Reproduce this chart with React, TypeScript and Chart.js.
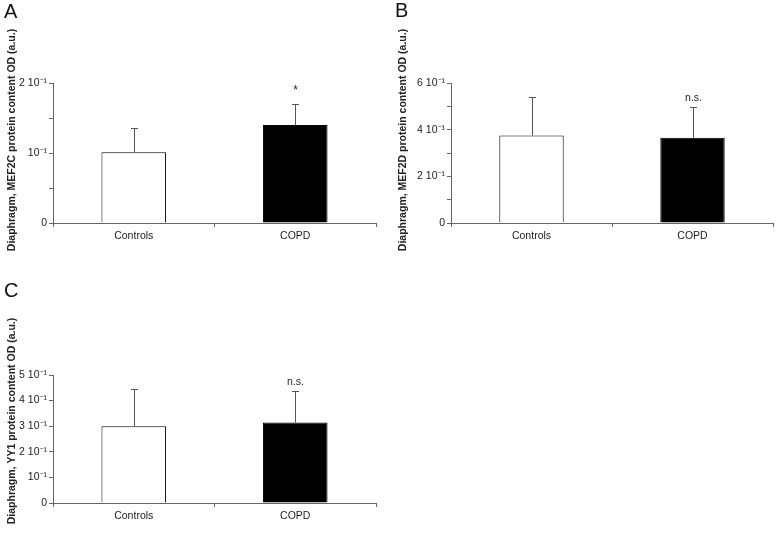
import React, { useEffect, useRef } from "react";
import { Chart, registerables } from "chart.js";

Chart.register(...registerables);

// ---------- data ----------
const categories = ["Controls", "COPD"];

const meansA = [0.101, 0.14];
const errorsA = [0.035, 0.03];
const marksA = ["", "*"];
const tickLabelsA = ["0", "10⁻¹", "2 10⁻¹"];
const titleA = "Diaphragm, MEF2C protein content OD (a.u.)";

const meansB = [0.375, 0.365];
const errorsB = [0.165, 0.132];
const marksB = ["", "n.s."];
const tickLabelsB = ["0", "2 10⁻¹", "4 10⁻¹", "6 10⁻¹"];
const titleB = "Diaphragm, MEF2D protein content OD (a.u.)";

const meansC = [0.3, 0.314];
const errorsC = [0.145, 0.124];
const marksC = ["", "n.s."];
const tickLabelsC = ["0", "10⁻¹", "2 10⁻¹", "3 10⁻¹", "4 10⁻¹", "5 10⁻¹"];
const titleC = "Diaphragm, YY1 protein content OD (a.u.)";

const barColors = ["#ffffff", "#000000"];

// ---------- styles ----------
const FONT = "'Liberation Sans', Arial, Helvetica, sans-serif";
const TEXT = "#222222";
const AXIS = "#666666";
const ERR = "#555555";

type PanelCfg = {
  letter: string;
  title: string;
  means: number[];
  errors: number[];
  marks: string[];
  tickLabels: string[];
  yMax: number;
  major: number;
  minor: number;
  left: number;
  top: number;
  width: number;
  height: number;
  yW: number;
  xH: number;
  padTop: number;
  padRight: number;
  letterX: number;
  letterY: number;
  titleX: number;
  titleY: number;
};

const panels: PanelCfg[] = [
  {
    letter: "A", title: titleA, means: meansA, errors: errorsA, marks: marksA,
    tickLabels: tickLabelsA, yMax: 0.2, major: 0.1, minor: 0.05,
    left: 0, top: 0, width: 385, height: 260, yW: 53, xH: 37, padTop: 83, padRight: 9,
    letterX: 4, letterY: 18, titleX: 12, titleY: 140,
  },
  {
    letter: "B", title: titleB, means: meansB, errors: errorsB, marks: marksB,
    tickLabels: tickLabelsB, yMax: 0.6, major: 0.2, minor: 0.1,
    left: 390, top: 0, width: 387, height: 260, yW: 61, xH: 37, padTop: 83, padRight: 4,
    letterX: 5, letterY: 17, titleX: 13.5, titleY: 140,
  },
  {
    letter: "C", title: titleC, means: meansC, errors: errorsC, marks: marksC,
    tickLabels: tickLabelsC, yMax: 0.5, major: 0.1, minor: 0.1,
    left: 0, top: 270, width: 385, height: 267, yW: 53, xH: 34, padTop: 105, padRight: 9,
    letterX: 4, letterY: 27, titleX: 12, titleY: 151,
  },
];

function makePlugin(cfg: PanelCfg) {
  return {
    id: "panelExtras" + cfg.letter,
    afterDatasetsDraw(chart: any) {
      const ctx = chart.ctx;
      const meta = chart.getDatasetMeta(0);
      const yScale = chart.scales.y;
      ctx.save();
      // error bars
      ctx.strokeStyle = ERR;
      ctx.lineWidth = 1;
      meta.data.forEach((el: any, i: number) => {
        const x = Math.round(el.x) + 0.5;
        const y0 = el.y;
        const y1 = Math.round(yScale.getPixelForValue(cfg.means[i] + cfg.errors[i])) + 0.5;
        ctx.beginPath();
        ctx.moveTo(x, y0);
        ctx.lineTo(x, y1);
        ctx.moveTo(x - 3.5, y1);
        ctx.lineTo(x + 3.5, y1);
        ctx.stroke();
        // significance marks
        const mark = cfg.marks[i];
        if (mark) {
          ctx.fillStyle = TEXT;
          ctx.textAlign = "center";
          ctx.textBaseline = "middle";
          if (mark === "*") {
            ctx.font = `12px ${FONT}`;
            ctx.fillText(mark, x, y1 - 14);
          } else {
            ctx.font = `10.5px ${FONT}`;
            ctx.fillText(mark, x, y1 - 9);
          }
        }
      });
      ctx.restore();
    },
    afterDraw(chart: any) {
      const ctx = chart.ctx;
      ctx.save();
      ctx.fillStyle = "#111111";
      ctx.font = `20px ${FONT}`;
      ctx.textAlign = "left";
      ctx.textBaseline = "alphabetic";
      ctx.fillText(cfg.letter, cfg.letterX, cfg.letterY);
      ctx.translate(cfg.titleX, cfg.titleY);
      ctx.rotate(-Math.PI / 2);
      ctx.font = `bold 10.5px ${FONT}`;
      ctx.fillStyle = TEXT;
      ctx.textAlign = "center";
      ctx.textBaseline = "middle";
      ctx.fillText(cfg.title, 0, 0);
      ctx.restore();
    },
  };
}

function Panel({ cfg }: { cfg: PanelCfg }) {
  const ref = useRef<HTMLCanvasElement | null>(null);
  useEffect(() => {
    if (!ref.current) return;
    const chart = new Chart(ref.current, {
      type: "bar",
      data: {
        labels: categories,
        datasets: [
          {
            data: cfg.means,
            backgroundColor: barColors,
            borderColor: "#000000",
            borderWidth: 1,
            barPercentage: 0.4,
            categoryPercentage: 1,
          },
        ],
      },
      options: {
        responsive: false,
        animation: false,
        devicePixelRatio: 1,
        layout: { padding: { left: 0, right: cfg.padRight, top: cfg.padTop, bottom: 0 } },
        plugins: { legend: { display: false }, tooltip: { enabled: false } },
        scales: {
          x: {
            type: "category",
            offset: true,
            grid: { offset: true, drawOnChartArea: false, drawTicks: true, tickLength: 4, color: AXIS },
            border: { display: true, color: AXIS, width: 1 },
            ticks: { color: TEXT, font: { family: FONT, size: 10.5 }, padding: 3, maxRotation: 0 },
            afterFit: (s: any) => { s.height = cfg.xH; },
          },
          y: {
            min: 0,
            max: cfg.yMax,
            grid: { drawOnChartArea: false, drawTicks: true, tickLength: 4, color: AXIS },
            border: { display: true, color: AXIS, width: 1 },
            ticks: {
              stepSize: cfg.minor,
              color: TEXT,
              font: { family: FONT, size: 10.5 },
              padding: 2,
              autoSkip: false,
              callback: (v: any) => {
                const val = Number(v);
                const i = Math.round(val / cfg.major);
                return Math.abs(val - i * cfg.major) < 1e-9 ? cfg.tickLabels[i] ?? "" : "";
              },
            },
            afterFit: (s: any) => { s.width = cfg.yW; },
          },
        },
      } as any,
      plugins: [makePlugin(cfg)],
    });
    return () => chart.destroy();
  }, [cfg]);
  return (
    <canvas
      ref={ref}
      width={cfg.width}
      height={cfg.height}
      style={{ position: "absolute", left: cfg.left, top: cfg.top, width: cfg.width, height: cfg.height }}
    />
  );
}

export default function App() {
  return (
    <div style={{ position: "absolute", left: 0, top: 0, width: 777, height: 537, background: "#ffffff", overflow: "hidden" }}>
      {panels.map((p) => (
        <Panel key={p.letter} cfg={p} />
      ))}
    </div>
  );
}
